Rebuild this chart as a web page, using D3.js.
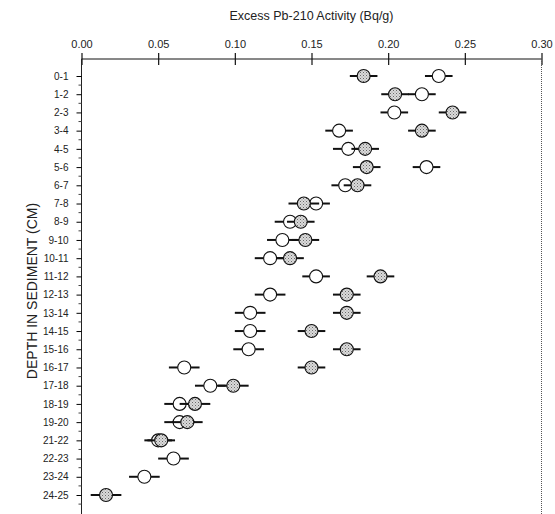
<!DOCTYPE html>
<html lang="en">
<head>
    <meta charset="UTF-8">
    <title>Excess Pb-210 Activity</title>
    <script src="https://d3js.org/d3.v7.min.js"></script>
    <style>
        body {
            margin: 0;
            background: #fff;
            font-family: "Liberation Sans", Arial, sans-serif;
        }
        .axis-title {
            fill: #222;
        }
    </style>
</head>
<body>
    <div class="chart"></div>

    <script>
        // Depth intervals (cm) - note 20-21 is absent in the original
        const depths = ["0-1", "1-2", "2-3", "3-4", "4-5", "5-6", "6-7", "7-8", "8-9", "9-10",
            "10-11", "11-12", "12-13", "13-14", "14-15", "15-16", "16-17", "17-18", "18-19",
            "19-20", "21-22", "22-23", "23-24", "24-25"];

        // Open circle series (Bq/g) and its error
        const openVals = [0.233, 0.222, 0.204, 0.168, 0.174, 0.225, 0.172, 0.153, 0.136, 0.131,
            0.123, 0.153, 0.123, 0.110, 0.110, 0.109, 0.067, 0.084, 0.064, 0.064,
            0.050, 0.060, 0.041, null];
        const openErr = [0.009, 0.009, 0.009, 0.009, 0.010, 0.009, 0.009, 0.009, 0.010, 0.010,
            0.010, 0.009, 0.010, 0.010, 0.010, 0.010, 0.010, 0.010, 0.010, 0.010,
            0.009, 0.010, 0.010, null];

        // Stippled circle series (Bq/g) and its error
        const dotVals = [0.184, 0.2045, 0.242, 0.222, 0.185, 0.186, 0.180, 0.145, 0.143, 0.146,
            0.136, 0.195, 0.173, 0.173, 0.150, 0.173, 0.150, 0.099, 0.074, 0.069,
            0.052, null, null, 0.016];
        const dotErr = [0.009, 0.009, 0.009, 0.009, 0.009, 0.009, 0.009, 0.010, 0.009, 0.009,
            0.009, 0.009, 0.009, 0.009, 0.009, 0.009, 0.009, 0.010, 0.010, 0.010,
            0.009, null, null, 0.010];

        const xTicks = [0, 0.05, 0.10, 0.15, 0.20, 0.25, 0.30];

        const width = 555, height = 514;
        const plotLeft = 81.5, plotRight = 541.5, plotTop = 59;

        const svg = d3.select(".chart")
            .append("svg")
            .attr("width", width)
            .attr("height", height);

        // stipple pattern for the filled circles
        const pat = svg.append("defs").append("pattern")
            .attr("id", "stipple")
            .attr("width", 3)
            .attr("height", 3)
            .attr("patternUnits", "userSpaceOnUse");
        pat.append("rect").attr("width", 3).attr("height", 3).attr("fill", "#dadada");
        pat.append("rect").attr("x", 0).attr("y", 0).attr("width", 1).attr("height", 1).attr("fill", "#6a6a6a");
        pat.append("rect").attr("x", 1.5).attr("y", 1.5).attr("width", 1).attr("height", 1).attr("fill", "#959595");

        const x = d3.scaleLinear().domain([0, 0.30]).range([plotLeft, plotRight]);
        const y = d3.scalePoint().domain(depths).range([76, 495]);

        // Top axis, ticks crossing the line
        const xAxis = svg.append("g")
            .attr("transform", `translate(0,${plotTop})`)
            .call(d3.axisTop(x).tickValues(xTicks).tickFormat(d3.format(".2f")).tickSize(6).tickPadding(5));
        xAxis.selectAll(".tick line").attr("stroke", "#111").attr("stroke-width", 1.2);
        xAxis.selectAll(".tick").append("line").attr("y2", 6).attr("stroke", "#111").attr("stroke-width", 1.2);
        xAxis.select(".domain").attr("d", `M${plotLeft},0H${plotRight}`).attr("stroke", "#111");
        xAxis.selectAll("text")
            .attr("font-size", 11)
            .attr("font-family", "Liberation Sans, Arial, sans-serif")
            .attr("fill", "#222");

        // Left axis with category ticks
        const yAxis = svg.append("g")
            .attr("transform", `translate(${plotLeft},0)`)
            .call(d3.axisLeft(y).tickSize(5).tickPadding(8));
        yAxis.select(".domain").attr("d", `M0,${plotTop}V${height}`).attr("stroke", "#222");
        yAxis.selectAll("text")
            .attr("font-size", 10)
            .attr("font-family", "Liberation Sans, Arial, sans-serif")
            .attr("fill", "#222");

        // minor ticks half way between categories
        const step = y.step();
        yAxis.selectAll(".minor")
            .data(depths)
            .enter().append("line")
            .attr("class", "minor")
            .attr("x1", -3).attr("x2", 0)
            .attr("y1", d => y(d) + step / 2)
            .attr("y2", d => y(d) + step / 2)
            .attr("stroke", "#444");

        // right frame line
        svg.append("line")
            .attr("x1", plotRight).attr("x2", plotRight)
            .attr("y1", plotTop).attr("y2", height)
            .attr("stroke", "#555")
            .attr("stroke-dasharray", "1,1");

        // Axis titles
        svg.append("text")
            .attr("class", "axis-title")
            .attr("x", (plotLeft + plotRight) / 2)
            .attr("y", 20)
            .attr("text-anchor", "middle")
            .attr("font-size", 12.5)
            .text("Excess Pb-210 Activity (Bq/g)");

        svg.append("text")
            .attr("class", "axis-title")
            .attr("transform", `translate(37,291) rotate(-90)`)
            .attr("text-anchor", "middle")
            .attr("font-size", 14)
            .text("DEPTH IN SEDIMENT (CM)");

        function drawSeries(vals, errs, fill) {
            const pts = depths.map((d, i) => ({ depth: d, v: vals[i], e: errs[i] }))
                .filter(p => p.v !== null);
            const g = svg.append("g");
            g.selectAll("line")
                .data(pts)
                .enter().append("line")
                .attr("x1", p => x(p.v - p.e))
                .attr("x2", p => x(p.v + p.e))
                .attr("y1", p => y(p.depth))
                .attr("y2", p => y(p.depth))
                .attr("stroke", "#111")
                .attr("stroke-width", 2);
            g.selectAll("circle")
                .data(pts)
                .enter().append("circle")
                .attr("cx", p => x(p.v))
                .attr("cy", p => y(p.depth))
                .attr("r", 6.5)
                .attr("fill", fill)
                .attr("stroke", "#111")
                .attr("stroke-width", 1.1);
        }

        drawSeries(openVals, openErr, "#fff");
        drawSeries(dotVals, dotErr, "url(#stipple)");
    </script>
</body>
</html>
